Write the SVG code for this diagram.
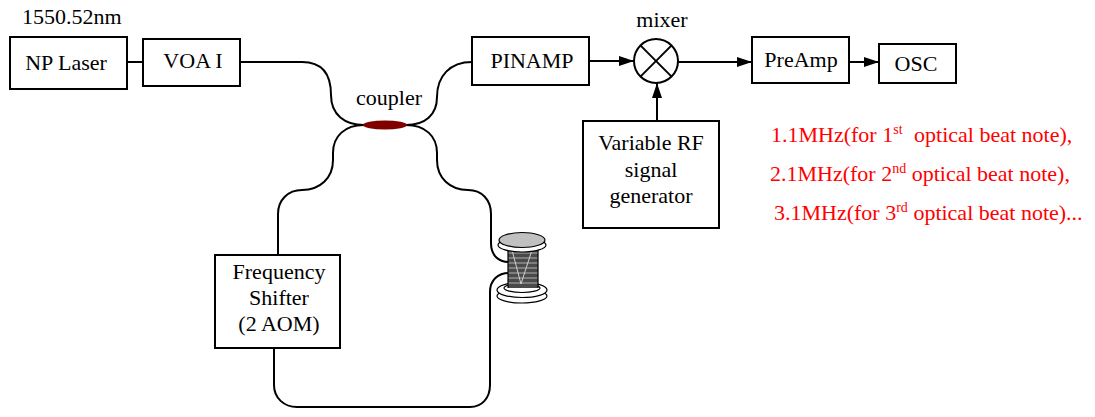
<svg xmlns="http://www.w3.org/2000/svg" width="1095" height="417" viewBox="0 0 1095 417">
  <style>
    .box { fill: #ffffff; stroke: #000000; stroke-width: 2; }
    .lbl { font-family: "Liberation Serif", "Times New Roman", serif; font-size: 22px; fill: #000000; }
    .mid { text-anchor: middle; }
    .red { font-family: "Liberation Serif", "Times New Roman", serif; font-size: 22px; fill: #ff0000; }
    .fiber { fill: none; stroke: #000000; stroke-width: 2; }
    .wire { fill: none; stroke: #000000; stroke-width: 2; }
    .spool { stroke: #000000; stroke-width: 1.2; }
  </style>
  <defs>
    <marker id="arrow" markerUnits="userSpaceOnUse" markerWidth="16" markerHeight="11" refX="15" refY="5" orient="auto">
      <path d="M0,0 L15,5 L0,10 z" fill="#000000"/>
    </marker>
  </defs>

  <!-- fibres and signal wires -->
  <g id="connectors">
    <line class="wire" x1="127" y1="62" x2="143" y2="62"/>
    <!-- VOA output to coupler -->
    <path class="fiber" d="M240,62 H302 C322,62 331,74 331,95 C331,115 345,125 364,125"/>
    <!-- coupler to PINAMP -->
    <path class="fiber" d="M406,125 C425,125 437,115 437,97 C437,76 450,62 472,62"/>
    <!-- coupler to frequency shifter -->
    <path class="fiber" d="M364,125 C345,125 333,136 333,153 V160 C333,178 320,190 302,190 C288,190 278,200 278,214 V255"/>
    <!-- coupler to fibre spool -->
    <path class="fiber" d="M406,125 C425,125 437,136 437,153 V160 C437,178 450,190 468,190 C482,190 491,200 491,214 V243 C491,255 498,262 509,262"/>
    <!-- fibre spool back to frequency shifter -->
    <path class="fiber" d="M509,273 C498,273 490,280 490,292 V385 C490,398 482,407 470,407 H297 C284,407 274,398 274,385 V348"/>
    <!-- electrical paths -->
    <line class="wire" x1="589" y1="61" x2="634" y2="61" marker-end="url(#arrow)"/>
    <line class="wire" x1="678" y1="62" x2="752" y2="62" marker-end="url(#arrow)"/>
    <line class="wire" x1="849" y1="62" x2="879" y2="62" marker-end="url(#arrow)"/>
    <line class="wire" x1="657" y1="121" x2="657" y2="83" marker-end="url(#arrow)"/>
  </g>

  <text class="lbl" x="22" y="24">1550.52nm</text>

  <g id="np-laser">
    <rect class="box" x="10" y="37" width="117" height="52"/>
    <text class="lbl mid" x="66" y="70">NP Laser</text>
  </g>

  <g id="voa">
    <rect class="box" x="143" y="39" width="97" height="47"/>
    <text class="lbl mid" x="193" y="68">VOA I</text>
  </g>

  <g id="coupler">
    <ellipse cx="385" cy="125" rx="22" ry="4.5" fill="#800000"/>
    <text class="lbl mid" x="389" y="105">coupler</text>
  </g>

  <g id="pinamp">
    <rect class="box" x="472" y="37" width="117" height="48"/>
    <text class="lbl mid" x="532" y="68">PINAMP</text>
  </g>

  <g id="mixer">
    <circle cx="656" cy="61" r="22" fill="#ffffff" stroke="#000000" stroke-width="2"/>
    <line class="wire" x1="640.4" y1="45.4" x2="671.6" y2="76.6"/>
    <line class="wire" x1="671.6" y1="45.4" x2="640.4" y2="76.6"/>
    <text class="lbl mid" x="662" y="27">mixer</text>
  </g>

  <g id="preamp">
    <rect class="box" x="752" y="37" width="97" height="46"/>
    <text class="lbl mid" x="801" y="67">PreAmp</text>
  </g>

  <g id="osc">
    <rect class="box" x="879" y="44" width="77" height="39"/>
    <text class="lbl mid" x="916" y="71">OSC</text>
  </g>

  <g id="rf-generator">
    <rect class="box" x="583" y="121" width="136" height="107"/>
    <text class="lbl mid" x="651" y="150">Variable RF</text>
    <text class="lbl mid" x="651" y="177">signal</text>
    <text class="lbl mid" x="651" y="203">generator</text>
  </g>

  <g id="frequency-shifter">
    <rect class="box" x="215" y="255" width="125" height="93"/>
    <text class="lbl mid" x="279" y="279">Frequency</text>
    <text class="lbl mid" x="279" y="305">Shifter</text>
    <text class="lbl mid" x="279" y="331">(2 AOM)</text>
  </g>

  <!-- fibre spool: bottom flange, wound core, top flange -->
  <g id="fiber-spool">
    <ellipse class="spool" cx="522" cy="296" rx="25" ry="7" fill="#ffffff"/>
    <ellipse class="spool" cx="522" cy="290" rx="25" ry="7.5" fill="#ffffff"/>
    <ellipse class="spool" cx="522" cy="288" rx="18" ry="4.5" fill="#ffffff"/>
    <rect x="508" y="248" width="30" height="40" fill="#4a4a4a"/>
    <g stroke="#b0b0b0" stroke-width="1">
      <line x1="508" y1="253" x2="538" y2="253"/>
      <line x1="508" y1="258" x2="538" y2="258"/>
      <line x1="508" y1="263" x2="538" y2="263"/>
      <line x1="508" y1="268" x2="538" y2="268"/>
      <line x1="508" y1="273" x2="538" y2="273"/>
      <line x1="508" y1="278" x2="538" y2="278"/>
      <line x1="508" y1="283" x2="538" y2="283"/>
    </g>
    <path d="M512,250 L521,284 L532,250" fill="none" stroke="#d0d0d0" stroke-width="1"/>
    <path d="M508,248 V288 M538,248 V288" fill="none" stroke="#000000" stroke-width="1.2"/>
    <ellipse class="spool" cx="522" cy="245" rx="24" ry="7" fill="#ffffff"/>
    <ellipse class="spool" cx="522" cy="240" rx="23" ry="7.5" fill="#c0c0c0"/>
  </g>

  <g id="beat-note-frequencies">
    <text class="red" x="771" y="142">1.1MHz(for 1<tspan font-size="14" dy="-8">st</tspan><tspan dy="8" dx="6"> optical beat note),</tspan></text>
    <text class="red" x="770" y="181">2.1MHz(for 2<tspan font-size="14" dy="-8">nd</tspan><tspan dy="8"> optical beat note),</tspan></text>
    <text class="red" x="774" y="220">3.1MHz(for 3<tspan font-size="14" dy="-8">rd</tspan><tspan dy="8"> optical beat note)...</tspan></text>
  </g>
</svg>
